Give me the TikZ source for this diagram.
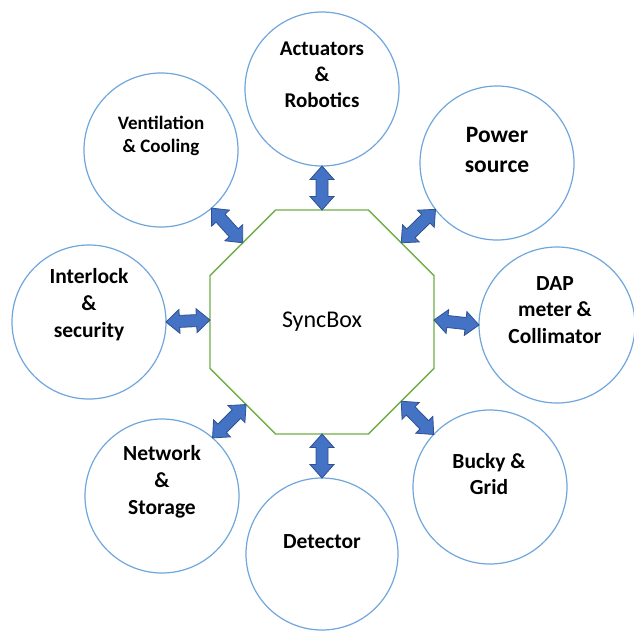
\documentclass[tikz,border=0pt]{standalone}
\usepackage{fontspec}
\setmainfont{Carlito}
\usetikzlibrary{calc}
\definecolor{circblue}{HTML}{6FA6DC}
\definecolor{octgreen}{HTML}{70AD47}
\definecolor{arrfill}{HTML}{4472C4}
\definecolor{arrline}{HTML}{2F528F}
\tikzset{
  circ/.style={circle, draw=circblue, line width=1.2pt, minimum size=154pt, inner sep=0pt, outer sep=0pt},
  lbl/.style={align=center, text=black, inner sep=0pt, font={\fontsize{#1}{\dimexpr #1pt*5/4\relax}\selectfont\bfseries}},
  octline/.style={draw=octgreen, line width=1.4pt, line join=miter},
  biarrowsty/.style={fill=arrfill, draw=arrline, line width=0.8pt, line join=miter}
}
\newcommand\biarrow[2]{%
  \path let \p1=($(#2)-(#1)$) in \pgfextra{%
    \pgfmathsetmacro\myang{atan2(\y1,\x1)}%
    \pgfmathsetmacro\mylen{veclen(\x1,\y1)}%
    \xdef\myang{\myang}\xdef\mylen{\mylen}};
  \begin{scope}[shift={(#1)},rotate=\myang]
    \filldraw[biarrowsty] (0,0) -- (13.5,12) -- (13.5,6) -- (\mylen-13.5,6) -- (\mylen-13.5,12) -- (\mylen,0) -- (\mylen-13.5,-12) -- (\mylen-13.5,-6) -- (13.5,-6) -- (13.5,-12) -- cycle;
  \end{scope}}
\begin{document}
\begin{tikzpicture}[x=1pt,y=-1pt]
\fill[white] (0,0) rectangle (634,630);
\useasboundingbox (0,0) rectangle (634,630);
% octagon
\coordinate (o1) at (275.6,210);
\coordinate (o2) at (368.4,210);
\coordinate (o3) at (434,275.6);
\coordinate (o4) at (434,368.4);
\coordinate (o5) at (368.4,434);
\coordinate (o6) at (275.6,434);
\coordinate (o7) at (210,368.4);
\coordinate (o8) at (210,275.6);
\draw[octline] (o1) -- (o2) -- (o3) -- (o4) -- (o5) -- (o6) -- (o7) -- (o8) -- cycle;
\node[font={\fontsize{24}{28}\selectfont}, inner sep=0pt] (sync) at (322,322) {SyncBox};
% edge points
\coordinate (eT) at ($(o1)!0.5!(o2)$);
\coordinate (eUR) at ($(o2)!0.5!(o3)$);
\coordinate (eR) at (434,320);
\coordinate (eLR) at ($(o4)!0.5!(o5)$);
\coordinate (eB) at ($(o5)!0.5!(o6)$);
\coordinate (eLL) at ($(o6)!0.45!(o7)$);
\coordinate (eL) at (210,320);
\coordinate (eUL) at ($(o8)!0.5!(o1)$);
% circles
\node[circ] (act) at (322,89) {};
\node[circ] (vent) at (161,150) {};
\node[circ] (pow) at (497,163) {};
\node[circ] (inter) at (89,322) {};
\node[circ, minimum size=156pt] (dap) at (557,325) {};
\node[circ] (net) at (162,496) {};
\node[circ, minimum size=152pt] (det) at (322,554) {};
\node[circ] (bucky) at (490,487) {};
% labels
\node[lbl=21] (actT) at (322,75) {Actuators\\\&\\Robotics};
\node[lbl=19] (ventT) at (161,136) {Ventilation\\\& Cooling};
\node[lbl=23.5] (powT) at (497,150) {Power\\source};
\node[lbl=21.5] (interT) at (89,305) {Interlock\\\&\\security};
\node[lbl=21.5] (dapT) at (555,310) {DAP\\meter \&\\Collimator};
\node[lbl=21.5] (netT) at (162,482) {Network\\\&\\Storage};
\node[lbl=21.5] (detT) at (322,542) {Detector};
\node[lbl=21.5] (buckyT) at (489,474) {Bucky \&\\Grid};
% arrows
\biarrow{act.south}{eT}
\biarrow{vent.-49}{eUL}
\biarrow{pow.217}{eUR}
\biarrow{inter.east}{eL}
\biarrow{dap.west}{eR}
\biarrow{net.49}{eLL}
\biarrow{det.north}{eB}
\biarrow{bucky.137}{eLR}
\end{tikzpicture}
\end{document}
